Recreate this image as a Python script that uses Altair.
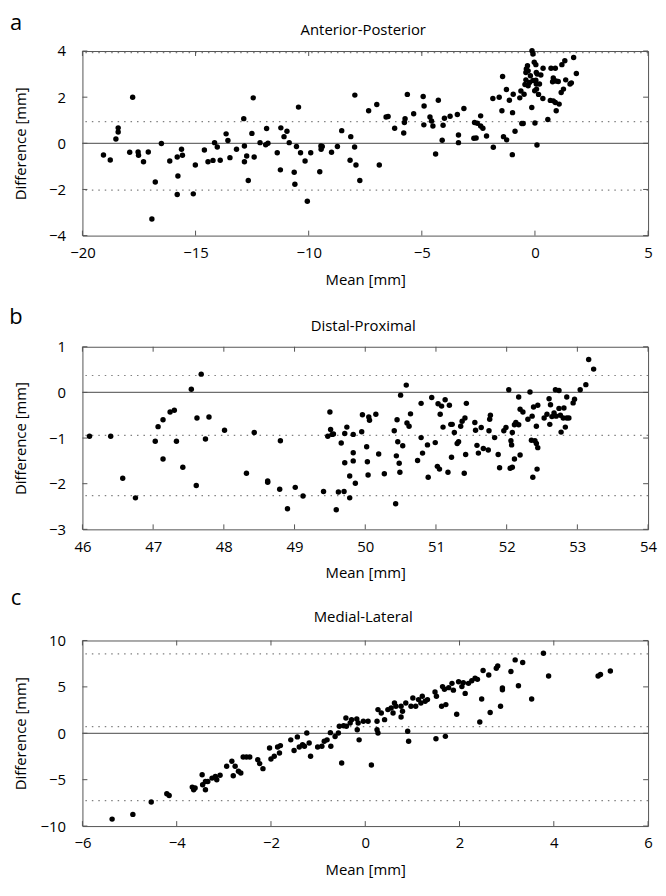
import altair as alt
import pandas as pd

FONT = "Open Sans"

# ---------------- Panel a: Anterior-Posterior ----------------
a_mean = [-19.07,-18.77,-18.52,-18.42,-18.42,-17.78,-17.91,-17.54,-17.52,-17.30,-17.09,-16.78,-16.93,-16.51,-16.14,
          -15.81,-15.78,-15.81,-15.62,-15.58,-15.10,-15.01,-14.61,-14.45,-14.23,-14.16,-14.04,-13.91,-13.65,-13.57,
          -13.48,-13.19,-12.87,-12.84,-12.84,-12.74,-12.67,-12.51,-12.45,-12.41,-12.15,-11.90,-11.86,-11.80,-11.39,
          -11.25,-11.23,-11.09,-10.96,-10.86,-10.64,-10.61,-10.54,-10.45,-10.36,-10.16,-10.06,-9.91,-9.51,-9.46,
          -9.45,-9.40,-8.99,-8.73,-8.54,-8.17,-8.14,-7.97,-7.96,-7.91,
          -7.74,-7.35,-6.99,-6.88,-6.58,-6.49,-6.20,-5.80,-5.77,-5.74,-5.64,-5.36,-4.94,-4.90,-4.91,-4.64,-4.57,
          -4.51,-4.39,-4.27,-4.10,-4.06,-4.00,-3.75,-3.43,-3.38,-3.38,-3.14,-2.70,-2.60,-2.67,-2.55,-2.40,-2.40,
          -2.30,-2.14,-1.84,-1.86,-1.58,-1.46,-1.43,-1.39,-1.25,-1.26,-1.13,-1.00,-0.99,-0.96,-0.88,-0.67,-0.62,
          -0.58,-0.52,-0.48,-0.40,-0.38,-0.33,-0.30,-0.24,-0.20,-0.13,-0.09,-0.03,0.04,0.04,0.10,0.07,-0.14,0.00,
          0.09,0.16,0.20,0.26,0.36,0.35,0.57,0.71,0.78,0.81,0.81,0.90,0.90,0.94,1.03,1.07,1.19,1.16,1.26,1.32,
          1.36,1.55,1.61,1.71,1.83,
          -0.30,-0.40,0.06,-0.44,-0.09,0.06,-0.01,0.93,0.68]
a_diff = [-0.51,-0.72,0.19,0.49,0.67,2.00,-0.39,-0.38,-0.52,-0.80,-0.38,-1.68,-3.28,-0.01,-0.77,
          -0.59,-1.42,-2.22,-0.26,-0.52,-2.19,-0.94,-0.29,-0.80,-0.74,0.03,-0.16,-0.73,0.41,0.12,
          -0.62,-0.26,1.07,-0.12,-0.80,-0.55,-1.61,0.43,1.97,-0.59,0.03,-0.06,0.64,0.00,-0.41,
          -1.15,0.67,0.29,0.52,0.03,-1.25,-1.77,-0.14,1.57,-0.41,-0.77,-2.51,-0.41,-1.23,-0.12,
          -0.26,-0.14,-0.39,-0.14,0.55,-0.73,0.29,-0.16,2.09,-0.94,
          -1.61,1.41,1.68,-0.94,1.14,1.16,0.65,0.45,0.90,1.07,2.12,1.28,2.03,1.62,0.80,1.14,0.97,
          0.75,-0.46,1.87,0.13,0.78,1.09,1.17,1.25,0.36,0.03,1.51,0.22,0.23,0.90,0.87,1.19,0.75,
          0.65,0.32,-0.17,1.94,2.00,1.41,2.90,0.29,0.15,2.33,1.87,-0.49,1.33,2.13,0.52,1.97,2.27,
          0.86,0.86,2.13,2.75,3.22,3.36,2.49,2.64,2.93,4.01,3.87,3.51,3.41,2.73,3.00,2.35,1.55,0.88,
          -0.07,2.12,2.57,2.96,3.25,1.94,1.03,3.25,2.67,2.83,1.84,3.25,1.77,1.41,2.68,1.70,3.41,2.20,2.35,3.58,
          2.75,2.57,2.62,3.72,3.03,
          3.14,3.07,3.07,2.55,2.72,2.57,2.28,2.70,1.86]
a_lines = [3.93, 0.94, -2.03]

# ---------------- Panel b: Distal-Proximal ----------------
b_mean = [46.10,46.40,46.57,46.75,47.03,47.07,47.14,47.14,47.24,47.30,47.33,47.42,47.54,47.61,47.62,47.68,47.74,
          47.79,48.01,48.32,48.43,48.62,48.62,48.79,48.80,48.90,49.01,49.12,49.41,49.47,49.50,49.51,49.53,49.55,
          49.59,49.62,49.66,49.70,49.71,49.71,49.74,49.78,49.78,49.83,49.83,49.83,49.86,
          49.96,49.95,50.02,50.03,50.04,50.05,50.06,50.15,50.19,50.27,50.41,50.43,50.44,50.45,50.46,50.48,50.49,
          50.50,50.53,50.58,50.59,50.62,50.64,50.74,50.79,50.79,50.81,50.88,50.89,50.94,50.99,51.02,51.03,51.05,
          51.06,51.08,51.10,51.13,51.17,51.19,51.22,51.21,51.23,51.26,51.30,51.32,51.35,51.37,51.40,51.41,51.42,
          51.43,51.55,51.56,51.58,51.60,51.64,51.67,51.74,51.75,51.76,51.77,51.83,51.88,51.90,51.96,51.99,52.03,
          52.05,52.06,52.07,52.08,52.08,52.11,52.11,52.13,52.17,52.17,52.19,52.19,52.23,52.30,52.33,52.35,52.36,
          52.37,52.38,52.40,52.42,52.42,52.43,52.44,52.44,52.53,52.57,52.60,52.61,52.62,52.64,52.67,52.69,52.70,
          52.74,52.74,52.76,52.77,52.80,52.81,52.83,52.85,52.85,52.88,52.94,52.96,53.04,53.12,53.16,53.23]
b_diff = [-0.96,-0.96,-1.88,-2.31,-1.07,-0.75,-0.60,-1.46,-0.43,-0.39,-1.07,-1.64,0.07,-2.04,-0.56,0.40,-1.02,
          -0.54,-0.83,-1.77,-0.88,-1.97,-1.94,-2.12,-1.06,-2.55,-2.08,-2.27,-2.17,-0.96,-0.43,-0.81,-0.92,-0.91,
          -2.57,-2.18,-1.11,-2.17,-0.90,-1.54,-0.76,-2.31,-1.83,-0.92,-1.32,-1.50,-1.99,
          -0.49,-0.86,-1.19,-1.52,-1.81,-0.54,-0.61,-0.48,-1.35,-1.78,-0.84,-2.44,-1.39,-0.60,-1.08,-1.55,-1.75,
          -0.06,-1.17,0.16,-0.67,-0.74,-0.47,-1.49,-0.99,-0.24,-1.33,-1.15,-1.86,-0.11,-1.10,-1.62,-0.25,-1.68,
          -0.48,-0.30,-0.76,-0.16,-1.75,-0.28,-1.42,-0.70,-0.70,-0.88,-1.12,-1.08,-0.74,-0.63,-1.77,-0.56,-1.36,
          -0.24,-0.66,-0.83,-1.16,-1.33,-0.77,-1.23,-1.26,-0.84,-0.59,-0.50,-0.99,-1.36,-1.65,-0.84,-0.77,0.06,
          -1.66,-1.06,-1.15,-0.88,-1.64,-1.46,-0.71,-0.66,-0.10,-0.71,-1.37,-0.37,-0.43,-0.59,0.01,-1.05,-0.52,
          -1.86,-0.32,-1.06,-0.74,-1.12,-1.68,-1.21,-0.28,-0.56,-0.48,-0.14,-0.70,-0.27,-0.53,-0.45,0.06,-0.52,
          0.04,-0.35,-0.50,-0.87,-0.56,-0.34,-0.76,-0.10,-0.56,-0.56,-0.23,-0.15,0.06,0.17,0.72,0.51]
b_lines = [0.37, -0.94, -2.26]

# ---------------- Panel c: Medial-Lateral ----------------
c_mean = [-5.37,-4.93,-4.54,-4.21,-4.16,-3.67,-3.64,-3.61,-3.46,-3.45,-3.39,-3.39,-3.34,-3.25,-3.18,-3.15,-3.08,
          -2.94,-2.83,-2.80,-2.76,-2.69,-2.64,-2.59,-2.52,-2.45,-2.28,-2.24,-2.17,-2.03,-2.00,-1.93,-1.86,-1.80,
          -1.82,-1.58,-1.51,-1.44,-1.40,-1.33,-1.29,-1.24,-1.19,-1.16,-1.01,-0.92,-0.87,-0.81,-0.74,-0.73,-0.64,
          -0.57,-0.55,-0.50,-0.46,-0.41,-0.40,-0.32,
          -0.29,-0.18,-0.15,-0.17,-0.13,-0.04,0.06,0.13,0.25,0.25,0.27,0.27,0.34,0.41,0.48,0.55,0.59,0.62,0.65,
          0.76,0.76,0.79,0.86,0.90,0.92,0.97,1.01,1.07,1.13,1.18,1.21,1.27,1.32,1.48,1.51,1.50,1.62,1.64,1.68,
          1.70,1.71,1.77,1.84,1.87,1.94,1.98,2.05,2.08,2.12,2.19,2.26,2.33,2.38,2.47,2.43,2.50,2.62,2.65,2.78,
          2.81,2.87,2.91,2.91,3.09,3.18,3.25,3.34,3.53,3.78,3.89,4.94,4.99,5.20]
c_diff = [-9.25,-8.74,-7.41,-6.52,-6.70,-5.80,-6.08,-5.90,-4.47,-5.55,-5.19,-6.08,-5.19,-4.83,-4.65,-5.00,-4.53,
          -3.56,-3.02,-4.57,-3.56,-4.10,-4.28,-2.56,-2.56,-2.56,-2.84,-3.27,-3.81,-1.58,-2.77,-2.48,-1.47,-1.33,
          -2.12,-0.71,-1.86,-0.39,-1.47,-1.22,-1.40,0.03,-1.05,-2.48,-1.47,-1.40,-0.86,-0.71,0.07,-1.40,-0.35,
          0.03,0.75,-3.20,0.82,1.65,0.75,1.11,
          1.47,1.54,1.11,0.39,-0.71,1.29,1.29,-3.42,1.29,0.39,0.03,2.55,2.19,1.47,2.55,2.73,2.19,3.27,2.91,
          2.91,1.76,2.37,3.27,0.21,-0.86,2.91,3.81,2.91,3.63,3.27,4.00,3.45,3.63,4.45,4.00,-0.58,2.91,5.03,4.74,
          -0.33,3.09,4.92,5.38,4.65,2.05,5.56,5.03,5.45,4.30,5.38,5.67,5.93,5.81,3.70,1.22,6.76,6.29,2.23,7.01,
          7.26,2.91,4.88,4.70,6.65,7.91,5.13,7.63,3.70,8.63,6.18,6.18,6.33,6.72]
c_lines = [8.55, 0.72, -7.26]

W = 570


def panel(xs, ys, lines, xdom, ydom, xticks, yticks, title, letter, H, letter_dy, title_dy):
    xsc = alt.Scale(domain=xdom, nice=False, zero=False)
    ysc = alt.Scale(domain=ydom, nice=False, zero=False)
    xax = alt.Axis(values=xticks, labelPadding=10, labelFlush=False, title="Mean [mm]",
                   titleY=44, titleBaseline="middle")
    yax = alt.Axis(values=yticks, labelPadding=17, labelFlush=False, title="Difference [mm]",
                   titleX=-62, titleY=H / 2, titleBaseline="middle", titleAlign="center")

    def X(f):
        return alt.X(f, type="quantitative", scale=xsc, axis=xax)

    def Y(f):
        return alt.Y(f, type="quantitative", scale=ysc, axis=yax)

    pts = pd.DataFrame({"m": xs, "d": ys})
    points = alt.Chart(pts).mark_circle(size=30, color="black", opacity=1).encode(x=X("m"), y=Y("d"))
    dotted = alt.Chart(pd.DataFrame({"d": lines})).mark_rule(
        color="#808080", strokeDash=[1.5, 5], strokeWidth=1.2
    ).encode(y=Y("d"))
    zero = alt.Chart(pd.DataFrame({"d": [0]})).mark_rule(color="#6e6e6e", strokeWidth=1.2).encode(y=Y("d"))
    xt = pd.DataFrame({"m": xticks})
    yt = pd.DataFrame({"d": yticks})
    tick_style = dict(color="#555555", strokeWidth=1)
    tb = alt.Chart(xt).mark_rule(**tick_style).encode(x=X("m"), y=alt.value(H), y2=alt.value(H - 5))
    tt = alt.Chart(xt).mark_rule(**tick_style).encode(x=X("m"), y=alt.value(0), y2=alt.value(5))
    tl = alt.Chart(yt).mark_rule(**tick_style).encode(y=Y("d"), x=alt.value(0), x2=alt.value(5))
    tr = alt.Chart(yt).mark_rule(**tick_style).encode(y=Y("d"), x=alt.value(W), x2=alt.value(W - 5))
    lab = alt.Chart(pd.DataFrame({"s": [letter]})).mark_text(
        font=FONT, fontSize=22, align="center", baseline="middle", color="black"
    ).encode(text="s:N", x=alt.value(-67), y=alt.value(letter_dy))
    ttl = alt.Chart(pd.DataFrame({"s": [title]})).mark_text(
        font=FONT, fontSize=15, align="center", baseline="middle", color="black"
    ).encode(text="s:N", x=alt.value(W / 2 - 2), y=alt.value(title_dy))
    return alt.layer(dotted, zero, tb, tt, tl, tr, points, lab, ttl).properties(width=W, height=H)


pa = panel(a_mean, a_diff, a_lines, [-20, 5], [-4, 4], [-20, -15, -10, -5, 0, 5], [-4, -2, 0, 2, 4],
           "Anterior-Posterior", "a", 186, -28, -21)
pb = panel(b_mean, b_diff, b_lines, [46, 54], [-3, 1], [46, 47, 48, 49, 50, 51, 52, 53, 54], [-3, -2, -1, 0, 1],
           "Distal-Proximal", "b", 184, -30, -21)
pc = panel(c_mean, c_diff, c_lines, [-6, 6], [-10, 10], [-6, -4, -2, 0, 2, 4, 6], [-10, -5, 0, 5, 10],
           "Medial-Lateral", "c", 187, -43, -24)

chart = alt.vconcat(pa, pb, pc, spacing=112, bounds="flush").properties(
    padding={"left": 0, "top": 0, "right": 0, "bottom": 0}
).configure_view(stroke="#555555", strokeWidth=1).configure_axis(
    domain=False, ticks=False, grid=False, labelFont=FONT, titleFont=FONT,
    labelFontSize=15, titleFontSize=15, labelColor="black", titleColor="black", titleFontWeight="normal"
)

chart.save("out.html", embed_options={"renderer": "svg", "actions": False})
